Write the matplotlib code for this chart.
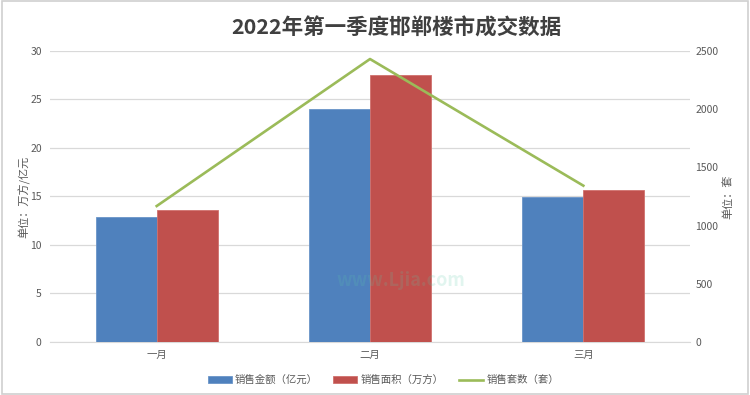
import matplotlib.pyplot as plt
import numpy as np
from matplotlib.patches import Rectangle

plt.rcParams['font.family'] = ['Noto Sans CJK SC', 'DejaVu Sans']

months = ['一月', '二月', '三月']
amount = [12.9, 24.0, 14.9]      # 销售金额（亿元）
area = [13.6, 27.5, 15.7]        # 销售面积（万方）
units = [1168, 2431, 1343]       # 销售套数（套）

left_ticks = [0, 5, 10, 15, 20, 25, 30]
right_ticks = [0, 500, 1000, 1500, 2000, 2500]

blue = '#4F81BD'
red = '#C0504D'
green = '#9BBB59'
grey_txt = '#595959'
grid_c = '#D9D9D9'

fig = plt.figure(figsize=(7.5, 3.95), dpi=100)
ax = fig.add_axes([0.0667, 0.1342, 0.8533, 0.7367])
ax2 = ax.twinx()

x = np.arange(len(months))
w = 0.286
ax.bar(x - w / 2, amount, w, color=blue, edgecolor='#6A94C8', linewidth=0.6,
       label='销售金额（亿元）', zorder=3)
ax.bar(x + w / 2, area, w, color=red, edgecolor='#D0716E', linewidth=0.6,
       label='销售面积（万方）', zorder=3)
ax2.plot(x, units, color=green, linewidth=1.9, label='销售套数（套）', zorder=4)

ax.set_xlim(-0.5, 2.5)
ax.set_ylim(0, 30)
ax2.set_ylim(0, 2500)
ax.set_yticks(left_ticks)
ax2.set_yticks(right_ticks)
ax.set_xticks(x)
ax.set_xticklabels(months)

ax.grid(axis='y', color=grid_c, linewidth=0.9, zorder=0)
ax.set_axisbelow(True)
for a in (ax, ax2):
    for s in a.spines.values():
        s.set_visible(False)
    a.tick_params(length=0, labelsize=7.5, labelcolor=grey_txt)
ax.spines['bottom'].set_visible(True)
ax.spines['bottom'].set_color(grid_c)
ax.tick_params(axis='x', pad=6)
ax.tick_params(axis='y', pad=6)
ax2.tick_params(axis='y', pad=4)

ax.set_ylabel('单位：万方/亿元', fontsize=8, color=grey_txt, labelpad=0)
ax2.set_ylabel('单位：套', fontsize=8, color=grey_txt, rotation=90, labelpad=3)

fig.text(0.528, 0.928, '2022年第一季度邯郸楼市成交数据', ha='center', va='center',
         fontsize=15.5, fontweight='bold', color='#404040')

# faint watermark
fig.text(0.535, 0.29, 'www.Ljia.com', ha='center', va='center', fontsize=13,
         color='#5CC8A8', alpha=0.18, style='italic', fontweight='bold', zorder=0)

h1, l1 = ax.get_legend_handles_labels()
h2, l2 = ax2.get_legend_handles_labels()
fig.legend(h1 + h2, l1 + l2, loc='center', bbox_to_anchor=(0.511, 0.038), ncol=3,
           frameon=False, fontsize=7.5, labelcolor=grey_txt, handlelength=2.3,
           handleheight=0.6, columnspacing=1.5, handletextpad=0.3)

fig.patches.append(Rectangle((0.002, 0.003), 0.995, 0.994, transform=fig.transFigure,
                             fill=False, edgecolor='#D0D0D0', linewidth=1.2))

fig.savefig('out.png', dpi=100)
